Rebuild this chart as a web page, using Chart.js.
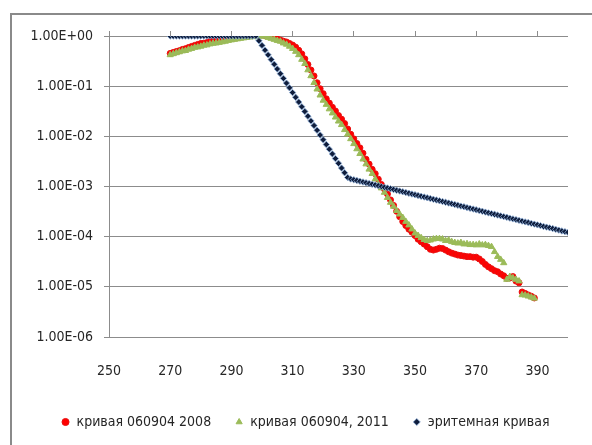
<!DOCTYPE html>
<html>
<head>
<meta charset="utf-8">
<script src="https://cdn.jsdelivr.net/npm/chart.js@4"></script>
<style>
  body { margin: 0; background: #fff; }
  #wrap { position: relative; width: 592px; height: 445px; overflow: hidden; }
  #frame { position: absolute; left: 10px; top: 13px; width: 700px; height: 600px;
           border-left: 2px solid #8a8a8a; border-top: 2px solid #8a8a8a; }
  #cvn { position: absolute; left: 0; top: 0; }
</style>
</head>
<body>
<div id="wrap">
  <div id="frame"></div>
  <canvas id="cvn" width="592" height="445"></canvas>
</div>
<script>
// wavelengths, nm (270 .. 400)
var waveNm = [
  270, 271, 272, 273, 274, 275, 276, 277, 278, 279, 280, 281, 282, 283, 284, 285, 286, 287, 288, 289,
  290, 291, 292, 293, 294, 295, 296, 297, 298, 299, 300, 301, 302, 303, 304, 305, 306, 307, 308, 309,
  310, 311, 312, 313, 314, 315, 316, 317, 318, 319, 320, 321, 322, 323, 324, 325, 326, 327, 328, 329,
  330, 331, 332, 333, 334, 335, 336, 337, 338, 339, 340, 341, 342, 343, 344, 345, 346, 347, 348, 349,
  350, 351, 352, 353, 354, 355, 356, 357, 358, 359, 360, 361, 362, 363, 364, 365, 366, 367, 368, 369,
  370, 371, 372, 373, 374, 375, 376, 377, 378, 379, 380, 381, 382, 383, 384, 385, 386, 387, 388, 389,
  390, 391, 392, 393, 394, 395, 396, 397, 398, 399, 400
];

// кривая 060904 2008 (270 .. 389)
var curve2008 = [
  0.45, 0.47, 0.49, 0.51, 0.54, 0.56, 0.59, 0.62, 0.65, 0.68,
  0.71, 0.72, 0.74, 0.78, 0.79, 0.81, 0.83, 0.85, 0.87, 0.89,
  0.90, 0.91, 0.93, 0.96, 0.98, 1.0, 1.02, 1.05, 1.04, 1.05,
  1.05, 1.02, 1.0, 0.96, 0.92, 0.87, 0.83, 0.79, 0.76, 0.71,
  0.66, 0.60, 0.52, 0.44, 0.35, 0.27, 0.21, 0.16, 0.117, 0.089,
  0.071, 0.056, 0.046, 0.038, 0.032, 0.026, 0.022, 0.018, 0.014, 0.011,
  8.9e-3, 7.2e-3, 5.9e-3, 4.6e-3, 3.5e-3, 2.8e-3, 2.2e-3, 1.8e-3, 1.4e-3, 1.1e-3,
  8.9e-4, 7.1e-4, 5.4e-4, 4.2e-4, 3.2e-4, 2.5e-4, 2.0e-4, 1.66e-4, 1.41e-4, 1.23e-4,
  1.05e-4, 8.9e-5, 7.9e-5, 7.1e-5, 6.3e-5, 5.6e-5, 5.4e-5, 5.6e-5, 5.9e-5, 5.8e-5,
  5.4e-5, 5.0e-5, 4.7e-5, 4.5e-5, 4.3e-5, 4.2e-5, 4.1e-5, 4.0e-5, 4.0e-5, 3.9e-5,
  3.9e-5, 3.6e-5, 3.2e-5, 2.8e-5, 2.5e-5, 2.3e-5, 2.1e-5, 2.0e-5, 1.8e-5, 1.66e-5,
  1.48e-5, 1.5e-5, 1.6e-5, 1.3e-5, 1.2e-5, 7.9e-6, 7.4e-6, 6.9e-6, 6.5e-6, 6.0e-6
];

// кривая 060904, 2011 (270 .. 389)
var curve2011 = [
  0.42, 0.44, 0.46, 0.48, 0.50, 0.51, 0.54, 0.56, 0.59, 0.60,
  0.62, 0.65, 0.66, 0.69, 0.71, 0.72, 0.74, 0.76, 0.78, 0.81,
  0.83, 0.85, 0.87, 0.89, 0.91, 0.93, 0.95, 0.96, 0.98, 0.98,
  1.0, 0.98, 0.93, 0.89, 0.85, 0.81, 0.78, 0.72, 0.68, 0.62,
  0.56, 0.49, 0.42, 0.34, 0.28, 0.21, 0.16, 0.117, 0.087, 0.066,
  0.052, 0.043, 0.035, 0.029, 0.024, 0.020, 0.017, 0.0135, 0.011, 8.9e-3,
  7.1e-3, 5.6e-3, 4.5e-3, 3.5e-3, 2.8e-3, 2.2e-3, 1.8e-3, 1.4e-3, 1.1e-3, 9.3e-4,
  7.6e-4, 6.0e-4, 4.8e-4, 4.0e-4, 3.3e-4, 2.8e-4, 2.4e-4, 2.0e-4, 1.7e-4, 1.41e-4,
  1.17e-4, 1.05e-4, 9.5e-5, 8.7e-5, 8.3e-5, 8.5e-5, 8.9e-5, 9.1e-5, 9.1e-5, 8.9e-5,
  8.3e-5, 8.5e-5, 7.9e-5, 7.6e-5, 7.4e-5, 7.6e-5, 7.1e-5, 7.2e-5, 6.9e-5, 6.9e-5,
  6.8e-5, 7.1e-5, 6.8e-5, 6.9e-5, 6.6e-5, 6.3e-5, 5.0e-5, 4.0e-5, 3.5e-5, 3.0e-5,
  1.4e-5, 1.6e-5, 1.5e-5, 1.4e-5, 1.3e-5, 6.9e-6, 6.8e-6, 6.5e-6, 6.2e-6, 5.9e-6
];

// эритемная кривая (270 .. 400)
var erythema = [
  1, 1, 1, 1, 1, 1, 1, 1, 1, 1,
  1, 1, 1, 1, 1, 1, 1, 1, 1, 1,
  1, 1, 1, 1, 1, 1, 1, 1, 1, 0.805,
  0.649, 0.522, 0.421, 0.339, 0.273, 0.220, 0.177, 0.143, 0.115, 0.0925,
  0.0745, 0.060, 0.0483, 0.0389, 0.0313, 0.0252, 0.0203, 0.0164, 0.0132, 0.0106,
  8.55e-3, 6.89e-3, 5.55e-3, 4.47e-3, 3.60e-3, 2.90e-3, 2.33e-3, 1.88e-3, 1.51e-3, 1.41e-3,
  1.365e-3, 1.318e-3, 1.274e-3, 1.230e-3, 1.189e-3, 1.148e-3, 1.109e-3, 1.072e-3, 1.035e-3, 1.0e-3,
  9.66e-4, 9.33e-4, 9.02e-4, 8.71e-4, 8.41e-4, 8.13e-4, 7.85e-4, 7.59e-4, 7.33e-4, 7.08e-4,
  6.84e-4, 6.61e-4, 6.38e-4, 6.17e-4, 5.96e-4, 5.75e-4, 5.56e-4, 5.37e-4, 5.19e-4, 5.01e-4,
  4.84e-4, 4.68e-4, 4.52e-4, 4.37e-4, 4.22e-4, 4.07e-4, 3.94e-4, 3.80e-4, 3.67e-4, 3.55e-4,
  3.43e-4, 3.31e-4, 3.20e-4, 3.09e-4, 2.98e-4, 2.88e-4, 2.79e-4, 2.69e-4, 2.60e-4, 2.51e-4,
  2.43e-4, 2.34e-4, 2.26e-4, 2.19e-4, 2.11e-4, 2.04e-4, 1.97e-4, 1.91e-4, 1.84e-4, 1.78e-4,
  1.72e-4, 1.66e-4, 1.60e-4, 1.55e-4, 1.50e-4, 1.45e-4, 1.40e-4, 1.35e-4, 1.30e-4, 1.26e-4,
  1.22e-4
];

var seriesNames = ["кривая 060904 2008", "кривая 060904, 2011", "эритемная кривая"];

var xTicks = [250, 270, 290, 310, 330, 350, 370, 390];
var yTicks = [1, 1e-1, 1e-2, 1e-3, 1e-4, 1e-5, 1e-6];
var yTickLabels = ["1.00E+00", "1.00E-01", "1.00E-02", "1.00E-03", "1.00E-04", "1.00E-05", "1.00E-06"];

function toPoints(vals) {
  return vals.map(function (v, i) { return { x: waveNm[i], y: v }; });
}

var FONT = "'Liberation Sans Narrow', 'Arial Narrow', 'DejaVu Sans Condensed', sans-serif";
var GRID = "#8c8c8c";
var TEXT = "#262626";

var data = {
  datasets: [
    {
      label: seriesNames[0],
      data: toPoints(curve2008),
      pointStyle: "circle",
      pointRadius: 3,
      backgroundColor: "#ff0000",
      borderColor: "#e81010",
      borderWidth: 1,
      showLine: false,
      order: 3,
    },
    {
      label: seriesNames[1],
      data: toPoints(curve2011),
      pointStyle: "triangle",
      pointRadius: 3.6,
      backgroundColor: "#9bbb59",
      borderColor: "#9bbb59",
      borderWidth: 1,
      showLine: false,
      order: 2,
    },
    {
      label: seriesNames[2],
      data: toPoints(erythema),
      pointStyle: "rectRot",
      pointRadius: 3.2,
      backgroundColor: "#0f1d3c",
      borderColor: "#8fb0d9",
      borderWidth: 0.8,
      showLine: false,
      order: 1,
    },
  ],
};

var config = {
  type: "scatter",
  data: data,
  options: {
    responsive: false,
    animation: false,
    layout: { padding: { left: 19, top: 31, right: 0, bottom: 6 } },
    plugins: {
      tooltip: { enabled: false },
      legend: {
        position: "bottom",
        labels: {
          usePointStyle: true,
          boxWidth: 8,
          boxHeight: 5,
          padding: 24,
          color: TEXT,
          font: { family: FONT, size: 14 },
          sort: function (a, b) { return a.datasetIndex - b.datasetIndex; },
        },
      },
    },
    scales: {
      x: {
        type: "linear",
        position: "bottom",
        min: 250,
        max: 400,
        grid: { display: false },
        border: { display: false },
        ticks: {
          color: TEXT,
          font: { family: FONT, size: 14 },
          padding: 18,
          maxRotation: 0,
          callback: function (v) { return String(v); },
        },
        afterBuildTicks: function (scale) {
          scale.ticks = xTicks.map(function (v) { return { value: v }; });
        },
        afterFit: function (scale) { scale.height = 54; },
      },
      xTop: {
        type: "linear",
        position: "top",
        min: 250,
        max: 400,
        grid: { drawOnChartArea: false, color: GRID, tickLength: 5, lineWidth: 1 },
        border: { display: false },
        ticks: { display: false },
        afterBuildTicks: function (scale) {
          scale.ticks = xTicks.map(function (v) { return { value: v }; });
        },
        afterFit: function (scale) { scale.height = 5; },
      },
      y: {
        type: "logarithmic",
        position: "left",
        min: 1e-6,
        max: 1,
        grid: { color: GRID, lineWidth: 1, tickLength: 5 },
        border: { display: true, color: GRID, width: 1 },
        ticks: {
          color: TEXT,
          font: { family: FONT, size: 14 },
          padding: 11,
          autoSkip: false,
          callback: function (v) {
            var k = yTicks.indexOf(v);
            return k >= 0 ? yTickLabels[k] : "";
          },
        },
        afterBuildTicks: function (scale) {
          scale.ticks = yTicks.map(function (v) { return { value: v }; });
        },
        afterFit: function (scale) { scale.width = 90; },
      },
      yRight: {
        type: "linear",
        position: "right",
        grid: { display: false },
        border: { display: false },
        ticks: { display: false },
        afterFit: function (scale) { scale.width = 24; },
      },
    },
  },
};

var chart = new Chart(document.getElementById("cvn").getContext("2d"), config);
</script>
</body>
</html>
